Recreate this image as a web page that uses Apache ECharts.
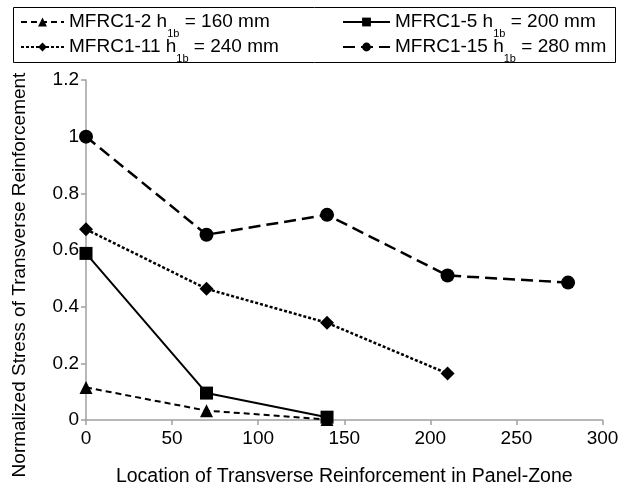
<!DOCTYPE html>
<html><head><meta charset="utf-8">
<script src="https://cdn.jsdelivr.net/npm/echarts@6/dist/echarts.min.js"></script>
<style>html,body{margin:0;padding:0;background:#fff}#c{width:627px;height:492px}</style>
</head><body><div id="c"></div>
<script>
// Data
const locations = [0, 70, 140, 210, 280];
const seriesNames = ['MFRC1-2', 'MFRC1-5', 'MFRC1-11', 'MFRC1-15'];
const depths = ['160', '200', '240', '280'];
const mfrc1_2 = [0.115, 0.033, 0.002];
const mfrc1_5 = [0.588, 0.095, 0.010];
const mfrc1_11 = [0.673, 0.463, 0.343, 0.164];
const mfrc1_15 = [1.0, 0.654, 0.724, 0.510, 0.485];
const xAxisMin = 0, xAxisMax = 300, xAxisStep = 50;
const yAxisMin = 0, yAxisMax = 1.2, yAxisStep = 0.2;
const xTitle = 'Location of Transverse Reinforcement in Panel-Zone';
const yTitle = 'Normalized Stress of Transverse Reinforcement';

const FONT = 'Liberation Sans, Arial, sans-serif';
const pts = vals => vals.map((v, i) => [locations[i], v]);
const valuesList = [mfrc1_2, mfrc1_5, mfrc1_11, mfrc1_15];
const symbols = ['triangle', 'rect', 'diamond', 'circle'];
const symbolSizes = [13, 13, 14, 14];
const dashes = [[6, 4], 'solid', [3, 2], [12, 6]];
const widths = [2, 2, 2.5, 2.5];

const chart = echarts.init(document.getElementById('c'));
const legendBase = {
  orient: 'vertical', padding: 0, itemHeight: 11, selectedMode: false,
  formatter: name => {
    const h = depths[seriesNames.indexOf(name)];
    return '{a|' + name + ' h}{s|1b}{a| = ' + h + ' mm}';
  },
  textStyle: {
    color: '#000', fontFamily: FONT, fontSize: 19,
    rich: {
      a: { fontSize: 19, fontFamily: FONT, color: '#000', lineHeight: 22 },
      s: { fontSize: 11, fontFamily: FONT, color: '#000', lineHeight: 11, padding: [24, 0, 0, 0] }
    }
  }
};
chart.setOption({
  animation: false,
  backgroundColor: '#fff',
  grid: { left: 86, right: 24.5, top: 80, bottom: 69 },
  legend: [
    Object.assign({}, legendBase, { data: ['MFRC1-2'], left: 20, top: 4.5, itemWidth: 43 }),
    Object.assign({}, legendBase, { data: ['MFRC1-11'], left: 20, top: 29.5, itemWidth: 43 }),
    Object.assign({}, legendBase, { data: ['MFRC1-5'], left: 342, top: 4.5, itemWidth: 47 }),
    Object.assign({}, legendBase, { data: ['MFRC1-15'], left: 342, top: 29.5, itemWidth: 47 })
  ],
  graphic: [
    { type: 'rect', shape: { x: 13.5, y: 7.5, width: 602, height: 55 },
      style: { fill: 'none', stroke: '#000', lineWidth: 1 }, z: 100 },
    { type: 'text', x: 20, y: 275, rotation: Math.PI / 2,
      style: { text: yTitle, font: '19px ' + FONT, fill: '#000', align: 'center', verticalAlign: 'middle' } }
  ],
  xAxis: {
    type: 'value', min: xAxisMin, max: xAxisMax, interval: xAxisStep,
    name: xTitle, nameLocation: 'middle', nameGap: 47,
    nameTextStyle: { fontSize: 19.5, fontFamily: FONT, color: '#000' },
    axisLine: { show: true, lineStyle: { color: '#a0a0a0', width: 1.5 } },
    axisTick: { show: true, length: 5, lineStyle: { color: '#a0a0a0', width: 1.5 } },
    axisLabel: { fontSize: 19, fontFamily: FONT, color: '#000', margin: 9 },
    splitLine: { show: false }
  },
  yAxis: {
    type: 'value', min: yAxisMin, max: yAxisMax, interval: yAxisStep,
    axisLine: { show: true, lineStyle: { color: '#a0a0a0', width: 1.5 } },
    axisTick: { show: true, length: 5, lineStyle: { color: '#a0a0a0', width: 1.5 } },
    axisLabel: { fontSize: 19, fontFamily: FONT, color: '#000', margin: 7,
      formatter: v => String(Math.round(v * 10) / 10) },
    splitLine: { show: false }
  },
  series: seriesNames.map((n, k) => ({
    name: n, type: 'line', data: pts(valuesList[k]),
    symbol: symbols[k], symbolSize: symbolSizes[k], showSymbol: true,
    itemStyle: { color: '#000' },
    lineStyle: { color: '#000', width: widths[k], type: dashes[k] },
    emphasis: { disabled: true }, z: 2 + k
  }))
});
</script></body></html>
